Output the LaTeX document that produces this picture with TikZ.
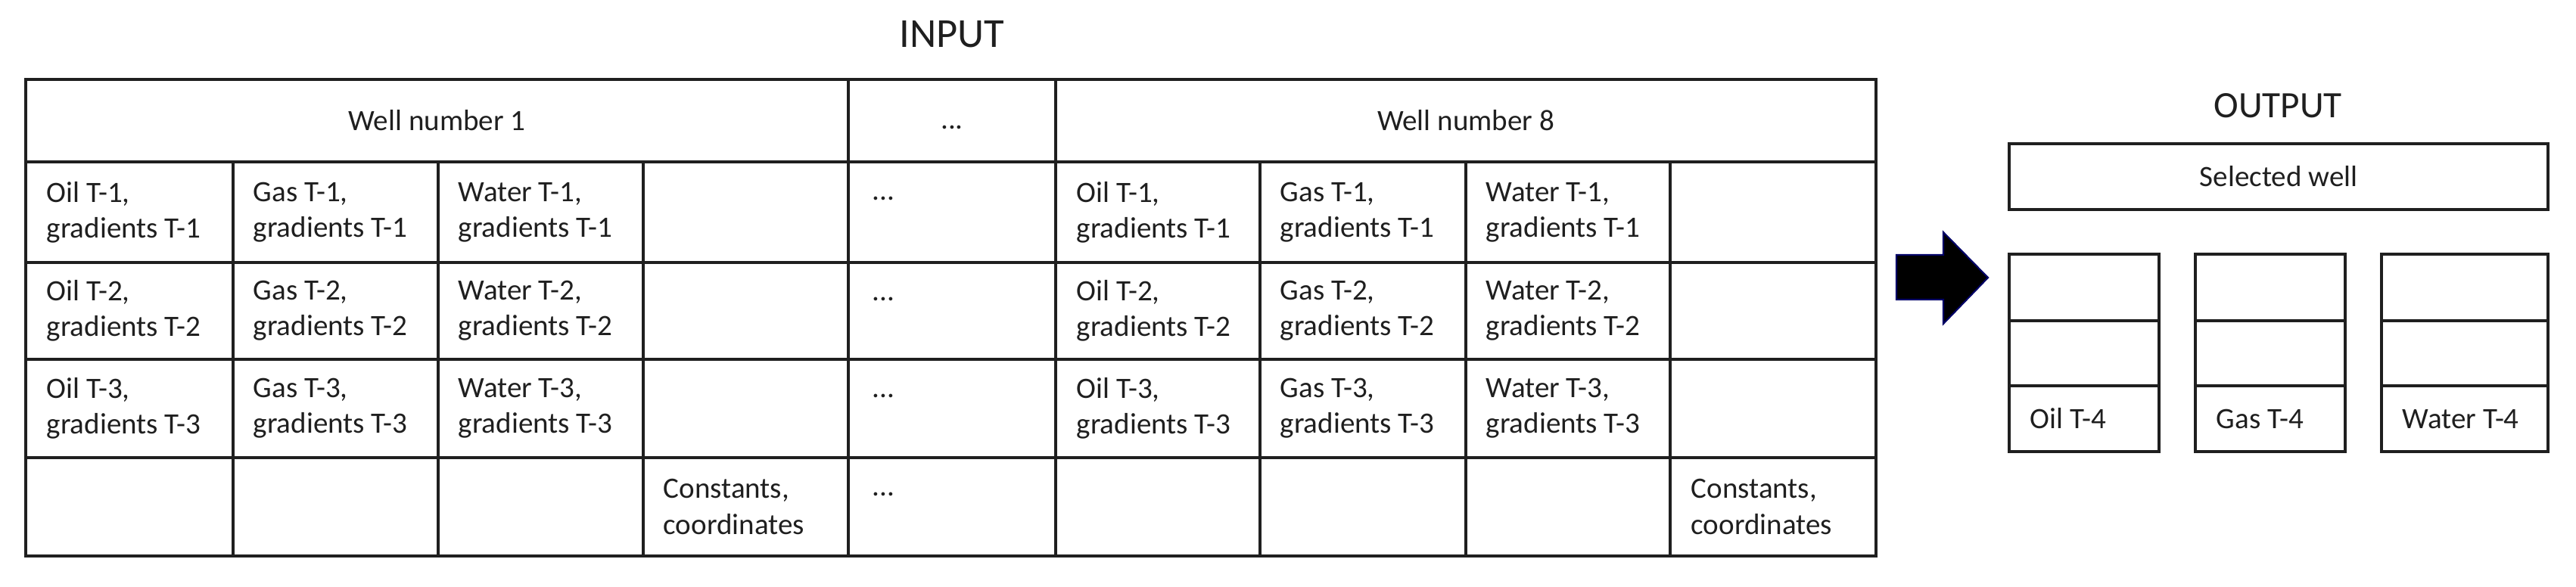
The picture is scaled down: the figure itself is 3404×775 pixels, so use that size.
\documentclass[tikz,border=0pt]{standalone}
\usepackage{fontspec}
\setmainfont{Carlito}
\begin{document}
\begin{tikzpicture}[x=0.01cm,y=-0.01cm,
  grid/.style={draw=black!88,line width=1pt},
  celltext/.style={anchor=west,align=left,inner sep=0pt,text=black!88,font=\fontsize{11.1}{13.4}\selectfont},
  basetext/.style={inner sep=0pt,text=black!88,font=\fontsize{11.1}{13.4}\selectfont},
  bigtitle/.style={inner sep=0pt,anchor=base,text=black!88}]
\useasboundingbox (0,0) rectangle (3404,775);
% ---------- INPUT title ----------
\node[bigtitle,font=\fontsize{15.5}{18}\selectfont] (input) at (1258,62) {INPUT};
% ---------- table grid ----------
\draw[grid] (34,105) rectangle (2479,735);
\foreach \yy in {214,347,475,605} \draw[grid] (34,\yy) -- (2479,\yy);
\foreach \xx in {1121,1395} \draw[grid] (\xx,105) -- (\xx,735);
\foreach \xx in {308,579,850,1665,1937,2207} \draw[grid] (\xx,214) -- (\xx,735);
% ---------- header ----------
\node[basetext,anchor=base] (well1) at (577.5,172) {Well number 1};
\node[basetext,anchor=base] (hdots) at (1258,170) {...};
\node[basetext,anchor=base] (well8) at (1937,172) {Well number 8};
% ---------- rows ----------
\foreach \r/\yc/\yt in {1/280.5/214,2/411/347,3/540/475}{
  \foreach \n/\xa/\xb/\xc in {a/34/308/579,b/1395/1665/1937}{
    \node[celltext] (oil-\n-\r) at (\xa+27,\yc) {Oil T-\r,\\gradients T-\r};
    \node[celltext] (gas-\n-\r) at (\xb+26,\yc) {Gas T-\r,\\gradients T-\r};
    \node[celltext] (water-\n-\r) at (\xc+26,\yc) {Water T-\r,\\gradients T-\r};
  }
  \node[basetext,anchor=base west] (dots-\r) at (1152,\yt+50) {...};
}
\node[basetext,anchor=base west] (dots-4) at (1152,655) {...};
\node[celltext] (const-a) at (876,670) {Constants,\\coordinates};
\node[celltext] (const-b) at (2234,670) {Constants,\\coordinates};
% ---------- arrow ----------
\draw[fill=black,draw=black!60!blue,line width=0.6pt,line join=miter]
  (2506,337) -- (2568,337) -- (2568,307) -- (2627,367) -- (2568,428) -- (2568,396) -- (2506,396) -- cycle;
% ---------- OUTPUT ----------
\node[bigtitle,font=\fontsize{14}{17}\selectfont] (output) at (3010,155) {OUTPUT};
\draw[grid] (2655,190) rectangle (3367,277);
\node[basetext,anchor=center] (selected) at (3011,233.5) {Selected well};
\foreach \xl/\xr/\lab/\nm in {2655/2853/Oil/oil,2901/3099/Gas/gas,3147/3367/Water/water}{
  \draw[grid] (\xl,336) rectangle (\xr,597);
  \draw[grid] (\xl,424) -- (\xr,424);
  \draw[grid] (\xl,510) -- (\xr,510);
  \node[basetext,anchor=base west] (out-\nm) at (\xl+27,566) {\lab{} T-4};
}
\end{tikzpicture}
\end{document}
